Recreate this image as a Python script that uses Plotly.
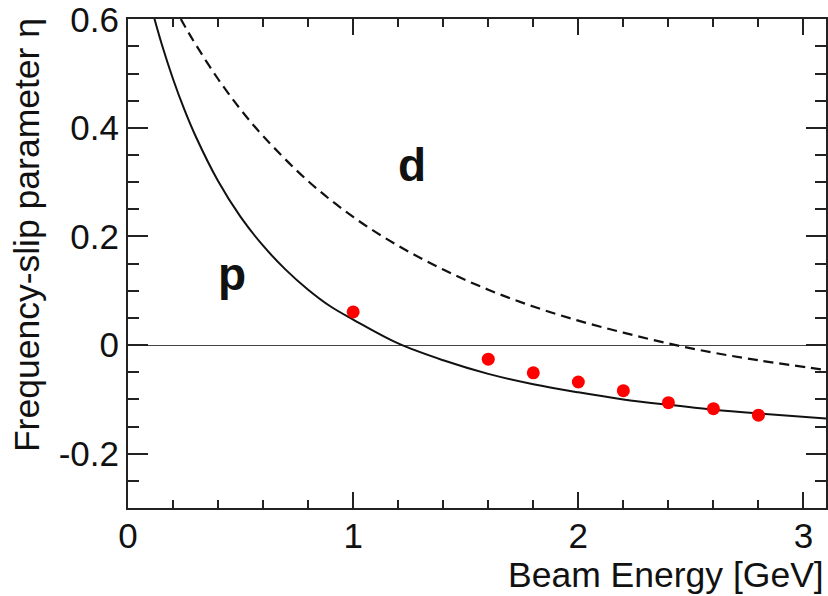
import plotly.graph_objects as go

# ---- data ----
proton_T = [0.10, 0.15, 0.20, 0.25, 0.30, 0.40, 0.50, 0.60, 0.70, 0.80, 0.90, 1.00,
            1.20, 1.40, 1.60, 1.80, 2.00, 2.20, 2.40, 2.60, 2.80, 3.10]
proton_eta = [0.627, 0.554, 0.490, 0.434, 0.385, 0.302, 0.236, 0.183, 0.139, 0.102, 0.071, 0.047,
              0.003, -0.028, -0.053, -0.072, -0.087, -0.100, -0.110, -0.119, -0.126, -0.135]

deut_T = [0.20, 0.25, 0.30, 0.40, 0.50, 0.60, 0.80, 1.00, 1.20, 1.40, 1.60, 1.80,
          2.00, 2.20, 2.40, 2.60, 2.80, 3.10]
deut_eta = [0.627, 0.589, 0.554, 0.490, 0.434, 0.385, 0.302, 0.236, 0.183, 0.139, 0.102, 0.071,
            0.045, 0.023, 0.003, -0.014, -0.028, -0.046]

meas_T = [1.0, 1.6, 1.8, 2.0, 2.2, 2.4, 2.6, 2.8]
meas_eta = [0.061, -0.026, -0.051, -0.068, -0.084, -0.106, -0.117, -0.129]

x_tickvals = [0, 1, 2, 3]
x_ticktext = ["0", "1", "2", "3"]
y_tickvals = [-0.2, 0.0, 0.2, 0.4, 0.6]
y_ticktext = ["-0.2", "0", "0.2", "0.4", "0.6"]

x_title = "Beam Energy [GeV]"
y_title = "Frequency-slip parameter η"
label_p = "p"
label_d = "d"
pos_p = (0.46, 0.131)
pos_d = (1.26, 0.331)

FONT = "Liberation Sans, Arial, Helvetica, sans-serif"
AX = "#222222"

fig = go.Figure()
fig.add_trace(go.Scatter(x=deut_T, y=deut_eta, mode="lines",
                         line=dict(color="#111111", width=2.2, dash="10px,6px", shape="spline"),
                         showlegend=False, hoverinfo="skip"))
fig.add_trace(go.Scatter(x=proton_T, y=proton_eta, mode="lines",
                         line=dict(color="#111111", width=2, shape="spline"),
                         showlegend=False, hoverinfo="skip"))
fig.add_trace(go.Scatter(x=meas_T, y=meas_eta, mode="markers",
                         marker=dict(color="#ff0000", size=13, line=dict(width=0)),
                         showlegend=False))

fig.update_layout(
    width=828, height=596,
    margin=dict(l=128, r=2, t=19, b=88, autoexpand=False),
    paper_bgcolor="white", plot_bgcolor="white",
    font=dict(family=FONT, size=35, color="#111111"),
    xaxis=dict(range=[0, 3.1], showgrid=False, zeroline=False, automargin=False,
               showline=True, linecolor=AX, linewidth=2, mirror="allticks",
               ticks="inside", ticklen=16, tickwidth=1.5, tickcolor=AX,
               tickvals=x_tickvals, ticktext=x_ticktext,
               ticklabelstandoff=-4, ticklabeloverflow="allow",
               minor=dict(ticks="inside", ticklen=8, tickwidth=1.5, tickcolor=AX, dtick=0.2, showgrid=False),
               tickfont=dict(size=35)),
    yaxis=dict(range=[-0.3, 0.6005], showgrid=False, automargin=False,
               zeroline=True, zerolinecolor="#444444", zerolinewidth=1.2,
               showline=True, linecolor=AX, linewidth=2, mirror="allticks",
               ticks="inside", ticklen=20, tickwidth=1.5, tickcolor=AX,
               tickvals=y_tickvals, ticktext=y_ticktext,
               ticklabelstandoff=0, ticklabeloverflow="allow",
               minor=dict(ticks="inside", ticklen=11, tickwidth=1.5, tickcolor=AX, dtick=0.05, showgrid=False),
               tickfont=dict(size=35)),
)

fig.add_annotation(text=x_title, xref="paper", yref="paper", x=1.0, y=-0.137,
                   xanchor="right", yanchor="middle", showarrow=False,
                   font=dict(size=35.5, family=FONT))
fig.add_annotation(text=y_title, xref="paper", yref="paper", x=-0.1447, y=1.006,
                   xanchor="center", yanchor="top", textangle=-90, showarrow=False,
                   font=dict(size=35.5, family=FONT))
fig.add_annotation(text=label_p, x=pos_p[0], y=pos_p[1], xref="x", yref="y",
                   showarrow=False, font=dict(size=46, family=FONT, weight="bold"))
fig.add_annotation(text=label_d, x=pos_d[0], y=pos_d[1], xref="x", yref="y",
                   showarrow=False, font=dict(size=46, family=FONT, weight="bold"))

fig.write_html("out.html", config={"displayModeBar": False},
               post_script="document.body.style.margin='0';document.body.style.padding='0';document.body.style.overflow='hidden';")
